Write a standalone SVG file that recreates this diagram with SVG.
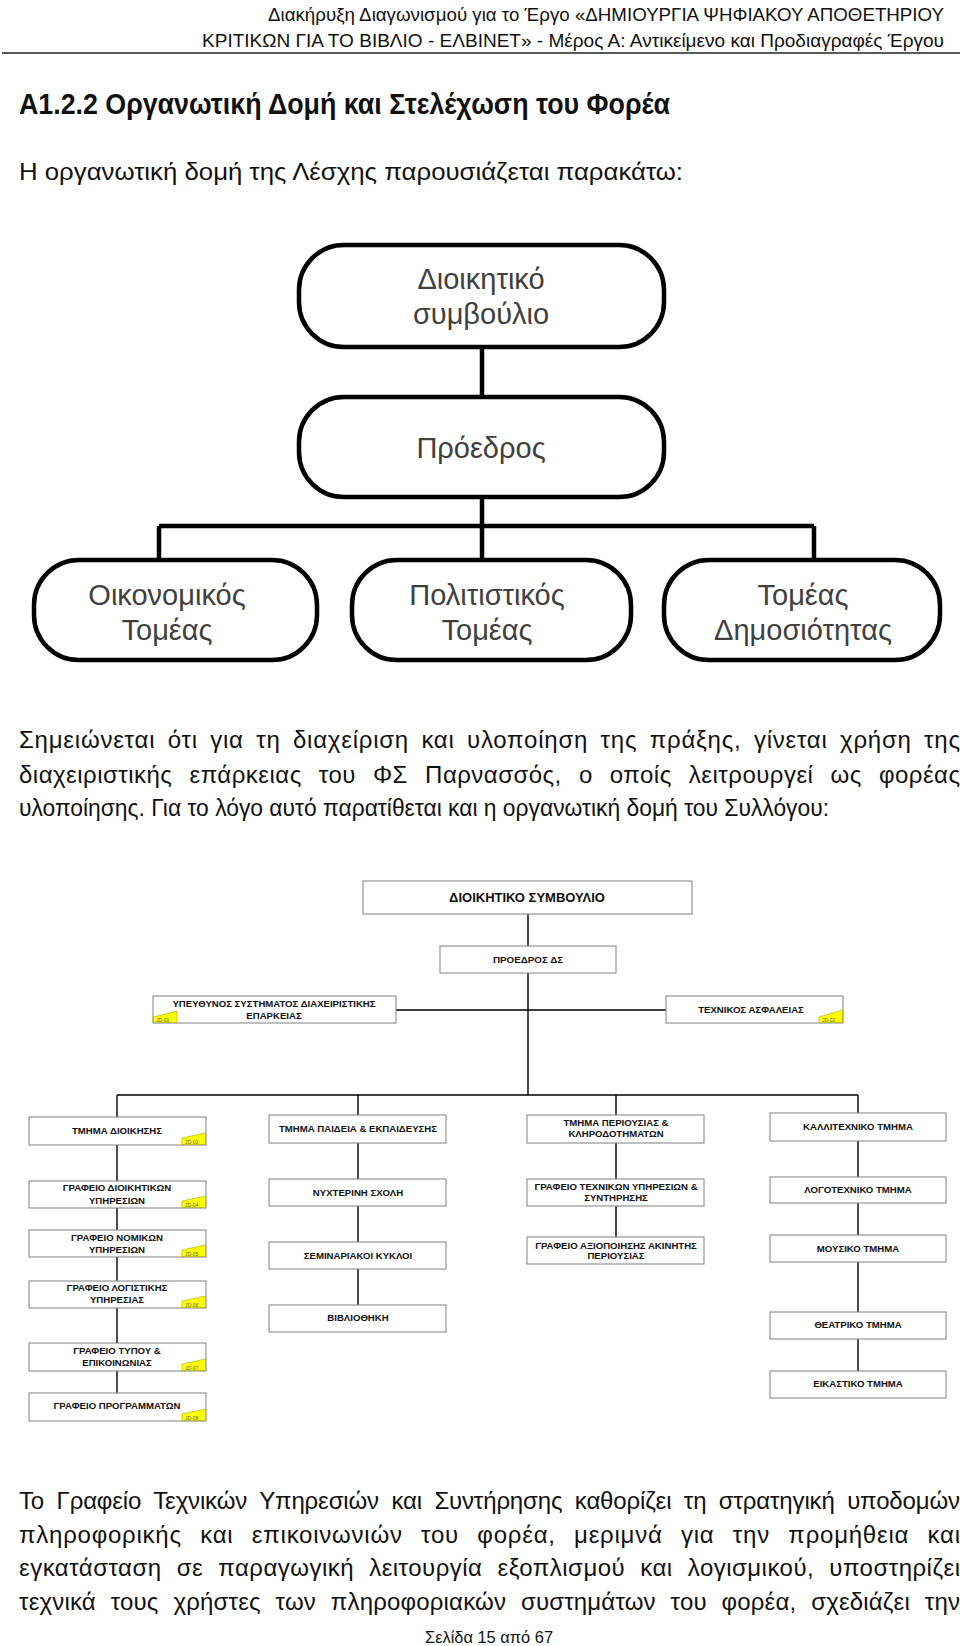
<svg xmlns="http://www.w3.org/2000/svg" width="960" height="1646" viewBox="0 0 960 1646">
<style>
.body{font-family:"Liberation Sans","DejaVu Sans",sans-serif;fill:#111}
.tc{fill:none;stroke:#000;stroke-width:4.5}
.tb{fill:#fff;stroke:#000;stroke-width:4.5}
.tt{font-family:"Liberation Sans","DejaVu Sans",sans-serif;font-size:29px;fill:#404040;text-anchor:middle}
.b{fill:#fff;stroke:#808080;stroke-width:1}
.t{font-family:"Liberation Sans","Arial",sans-serif;font-weight:bold;font-size:9.6px;fill:#111;text-anchor:middle}
.c{fill:none;stroke:#000;stroke-width:1.4}
.jd{fill:#ffff00;stroke:#a8a800;stroke-width:0.6}
.jdt{font-family:"Liberation Sans",sans-serif;font-size:5px;fill:#666}
</style>
<rect width="960" height="1646" fill="#fff"/>
<g id="page-text">
<text class="body" x="268" y="21" font-size="18.5" textLength="676" lengthAdjust="spacingAndGlyphs">Διακήρυξη Διαγωνισμού για το Έργο «ΔΗΜΙΟΥΡΓΙΑ ΨΗΦΙΑΚΟΥ ΑΠΟΘΕΤΗΡΙΟΥ</text>
<text class="body" x="202" y="47" font-size="18.5" textLength="742" lengthAdjust="spacingAndGlyphs">ΚΡΙΤΙΚΩΝ ΓΙΑ ΤΟ ΒΙΒΛΙΟ - ΕΛΒΙΝΕΤ» - Μέρος Α: Αντικείμενο και Προδιαγραφές Έργου</text>
<line x1="2" y1="53" x2="960" y2="53" stroke="#222" stroke-width="1.5"/>
<text class="body" x="19" y="114" font-size="29" font-weight="bold" textLength="651" lengthAdjust="spacingAndGlyphs">Α1.2.2 Οργανωτική Δομή και Στελέχωση του Φορέα</text>
<text class="body" x="19" y="180" font-size="24" textLength="664" lengthAdjust="spacingAndGlyphs">Η οργανωτική δομή της Λέσχης παρουσιάζεται παρακάτω:</text>
<text class="body" x="19" y="748" font-size="24" word-spacing="5" textLength="941" lengthAdjust="spacing">Σημειώνεται ότι για τη διαχείριση και υλοποίηση της πράξης, γίνεται χρήση της</text>
<text class="body" x="19" y="783" font-size="24" word-spacing="10" textLength="941" lengthAdjust="spacing">διαχειριστικής επάρκειας του ΦΣ Παρνασσός, ο οποίς λειτρουργεί ως φορέας</text>
<text class="body" x="19" y="816" font-size="24" textLength="810" lengthAdjust="spacingAndGlyphs">υλοποίησης. Για το λόγο αυτό παρατίθεται και η οργανωτική δομή του Συλλόγου:</text>
<text class="body" x="19" y="1509" font-size="24" word-spacing="6" textLength="941" lengthAdjust="spacing">Το Γραφείο Τεχνικών Υπηρεσιών και Συντήρησης καθορίζει τη στρατηγική υποδομών</text>
<text class="body" x="19" y="1543" font-size="24" word-spacing="11" textLength="941" lengthAdjust="spacing">πληροφορικής και επικοινωνιών του φορέα, μεριμνά για την προμήθεια και</text>
<text class="body" x="19" y="1576" font-size="24" word-spacing="8" textLength="941" lengthAdjust="spacing">εγκατάσταση σε παραγωγική λειτουργία εξοπλισμού και λογισμικού, υποστηρίζει</text>
<text class="body" x="19" y="1610" font-size="24" word-spacing="8" textLength="941" lengthAdjust="spacing">τεχνικά τους χρήστες των πληροφοριακών συστημάτων του φορέα, σχεδιάζει την</text>
<text class="body" x="425" y="1643" font-size="17" textLength="128" lengthAdjust="spacingAndGlyphs">Σελίδα 15 από 67</text>
</g>
<g id="connectors">
<path class="tc" d="M482 347V397M482 497V526M159 526H814M159 526V560M482 526V560M814 526V560"/>
<path class="c" d="M528 914V946M528 973V1095M396 1010H666M117 1095H858M117 1095V1117M358 1095V1115M616 1095V1115M858 1095V1113M117 1145V1181M117 1208V1230M117 1257V1281M117 1308V1343M117 1371V1393M358 1143V1179M358 1206V1242M358 1269V1305M616 1143V1179M616 1206V1237M858 1141V1177M858 1203V1235M858 1262V1312M858 1339V1371"/>
</g>
<g id="top-board">
<rect class="tb" x="299" y="245" width="365" height="102" rx="45"/>
<text class="tt" x="481" y="289">Διοικητικό</text>
<text class="tt" x="481" y="324">συμβούλιο</text>
</g>
<g id="top-president">
<rect class="tb" x="299" y="397" width="365" height="100" rx="45"/>
<text class="tt" x="481" y="458">Πρόεδρος</text>
</g>
<g id="top-economic">
<rect class="tb" x="34" y="560" width="283" height="100" rx="45"/>
<text class="tt" x="167" y="605">Οικονομικός</text>
<text class="tt" x="167" y="640">Τομέας</text>
</g>
<g id="top-cultural">
<rect class="tb" x="352" y="560" width="279" height="100" rx="45"/>
<text class="tt" x="487" y="605">Πολιτιστικός</text>
<text class="tt" x="487" y="640">Τομέας</text>
</g>
<g id="top-publicity">
<rect class="tb" x="664" y="560" width="276" height="100" rx="45"/>
<text class="tt" x="803" y="605">Τομέας</text>
<text class="tt" x="803" y="640">Δημοσιότητας</text>
</g>
<g id="ds">
<rect class="b" x="363" y="881" width="329" height="33"/>
<text class="t" x="527" y="902" style="font-size:13px">ΔΙΟΙΚΗΤΙΚΟ ΣΥΜΒΟΥΛΙΟ</text>
</g>
<g id="proedros">
<rect class="b" x="440" y="946" width="176" height="27"/>
<text class="t" x="528" y="963" style="font-size:9.8px">ΠΡΟΕΔΡΟΣ ΔΣ</text>
</g>
<g id="ypeythynos">
<rect class="b" x="153" y="996" width="243" height="27"/>
<text class="t" x="274" y="1007">ΥΠΕΥΘΥΝΟΣ ΣΥΣΤΗΜΑΤΟΣ ΔΙΑΧΕΙΡΙΣΤΙΚΗΣ</text>
<text class="t" x="274" y="1019">ΕΠΑΡΚΕΙΑΣ</text>
<polygon class="jd" points="153.5,1022.5 153.5,1017 177,1011 177,1022.5"/>
<text class="jdt" x="156" y="1021.5">JD-01</text>
</g>
<g id="texnikos">
<rect class="b" x="666" y="996" width="177" height="27"/>
<text class="t" x="751" y="1013">ΤΕΧΝΙΚΟΣ ΑΣΦΑΛΕΙΑΣ</text>
<polygon class="jd" points="819,1022.5 819,1017 842.5,1010 842.5,1022.5"/>
<text class="jdt" x="822" y="1021.5">JD-02</text>
</g>
<g id="tm-dioikisis">
<rect class="b" x="29" y="1117" width="177" height="28"/>
<text class="t" x="117" y="1134">ΤΜΗΜΑ ΔΙΟΙΚΗΣΗΣ</text>
<polygon class="jd" points="182,1144.5 182,1138 205.5,1133 205.5,1144.5"/>
<text class="jdt" x="185" y="1143.5">JD-03</text>
</g>
<g id="gr-dioikitikon">
<rect class="b" x="29" y="1181" width="177" height="27"/>
<text class="t" x="117" y="1191">ΓΡΑΦΕΙΟ ΔΙΟΙΚΗΤΙΚΩΝ</text>
<text class="t" x="117" y="1204">ΥΠΗΡΕΣΙΩΝ</text>
<polygon class="jd" points="182,1207.5 182,1201 205.5,1196 205.5,1207.5"/>
<text class="jdt" x="185" y="1206.5">JD-04</text>
</g>
<g id="gr-nomikon">
<rect class="b" x="29" y="1230" width="177" height="27"/>
<text class="t" x="117" y="1241">ΓΡΑΦΕΙΟ ΝΟΜΙΚΩΝ</text>
<text class="t" x="117" y="1253">ΥΠΗΡΕΣΙΩΝ</text>
<polygon class="jd" points="182,1256.5 182,1250 205.5,1245 205.5,1256.5"/>
<text class="jdt" x="185" y="1255.5">JD-05</text>
</g>
<g id="gr-logistikis">
<rect class="b" x="29" y="1281" width="177" height="27"/>
<text class="t" x="117" y="1291">ΓΡΑΦΕΙΟ ΛΟΓΙΣΤΙΚΗΣ</text>
<text class="t" x="117" y="1303">ΥΠΗΡΕΣΙΑΣ</text>
<polygon class="jd" points="182,1307.5 182,1301 205.5,1296 205.5,1307.5"/>
<text class="jdt" x="185" y="1306.5">JD-06</text>
</g>
<g id="gr-typou">
<rect class="b" x="29" y="1343" width="177" height="28"/>
<text class="t" x="117" y="1354">ΓΡΑΦΕΙΟ ΤΥΠΟΥ &amp;</text>
<text class="t" x="117" y="1366">ΕΠΙΚΟΙΝΩΝΙΑΣ</text>
<polygon class="jd" points="182,1370.5 182,1364 205.5,1359 205.5,1370.5"/>
<text class="jdt" x="185" y="1369.5">JD-07</text>
</g>
<g id="gr-programmaton">
<rect class="b" x="29" y="1393" width="177" height="28"/>
<text class="t" x="117" y="1409">ΓΡΑΦΕΙΟ ΠΡΟΓΡΑΜΜΑΤΩΝ</text>
<polygon class="jd" points="182,1420.5 182,1414 205.5,1409 205.5,1420.5"/>
<text class="jdt" x="185" y="1419.5">JD-08</text>
</g>
<g id="tm-paideias">
<rect class="b" x="269" y="1115" width="177" height="28"/>
<text class="t" x="358" y="1132">ΤΜΗΜΑ ΠΑΙΔΕΙΑ &amp; ΕΚΠΑΙΔΕΥΣΗΣ</text>
</g>
<g id="nyxterini">
<rect class="b" x="269" y="1179" width="177" height="27"/>
<text class="t" x="358" y="1196">ΝΥΧΤΕΡΙΝΗ ΣΧΟΛΗ</text>
</g>
<g id="seminariakoi">
<rect class="b" x="269" y="1242" width="177" height="27"/>
<text class="t" x="358" y="1259">ΣΕΜΙΝΑΡΙΑΚΟΙ ΚΥΚΛΟΙ</text>
</g>
<g id="vivliothiki">
<rect class="b" x="269" y="1305" width="177" height="27"/>
<text class="t" x="358" y="1321">ΒΙΒΛΙΟΘΗΚΗ</text>
</g>
<g id="tm-periousias">
<rect class="b" x="527" y="1115" width="177" height="28"/>
<text class="t" x="616" y="1126">ΤΜΗΜΑ ΠΕΡΙΟΥΣΙΑΣ &amp;</text>
<text class="t" x="616" y="1137">ΚΛΗΡΟΔΟΤΗΜΑΤΩΝ</text>
</g>
<g id="gr-texnikon">
<rect class="b" x="527" y="1179" width="177" height="27"/>
<text class="t" x="616" y="1190">ΓΡΑΦΕΙΟ ΤΕΧΝΙΚΩΝ ΥΠΗΡΕΣΙΩΝ &amp;</text>
<text class="t" x="616" y="1201">ΣΥΝΤΗΡΗΣΗΣ</text>
</g>
<g id="gr-axiopoiisis">
<rect class="b" x="527" y="1237" width="177" height="27"/>
<text class="t" x="616" y="1249">ΓΡΑΦΕΙΟ ΑΞΙΟΠΟΙΗΣΗΣ ΑΚΙΝΗΤΗΣ</text>
<text class="t" x="616" y="1259">ΠΕΡΙΟΥΣΙΑΣ</text>
</g>
<g id="kallitexniko">
<rect class="b" x="770" y="1113" width="176" height="28"/>
<text class="t" x="858" y="1130">ΚΑΛΛΙΤΕΧΝΙΚΟ ΤΜΗΜΑ</text>
</g>
<g id="logotexniko">
<rect class="b" x="770" y="1177" width="176" height="26"/>
<text class="t" x="858" y="1193">ΛΟΓΟΤΕΧΝΙΚΟ ΤΜΗΜΑ</text>
</g>
<g id="mousiko">
<rect class="b" x="770" y="1235" width="176" height="27"/>
<text class="t" x="858" y="1252">ΜΟΥΣΙΚΟ ΤΜΗΜΑ</text>
</g>
<g id="theatriko">
<rect class="b" x="770" y="1312" width="176" height="27"/>
<text class="t" x="858" y="1328">ΘΕΑΤΡΙΚΟ ΤΜΗΜΑ</text>
</g>
<g id="eikastiko">
<rect class="b" x="770" y="1371" width="176" height="27"/>
<text class="t" x="858" y="1387">ΕΙΚΑΣΤΙΚΟ ΤΜΗΜΑ</text>
</g>
</svg>
